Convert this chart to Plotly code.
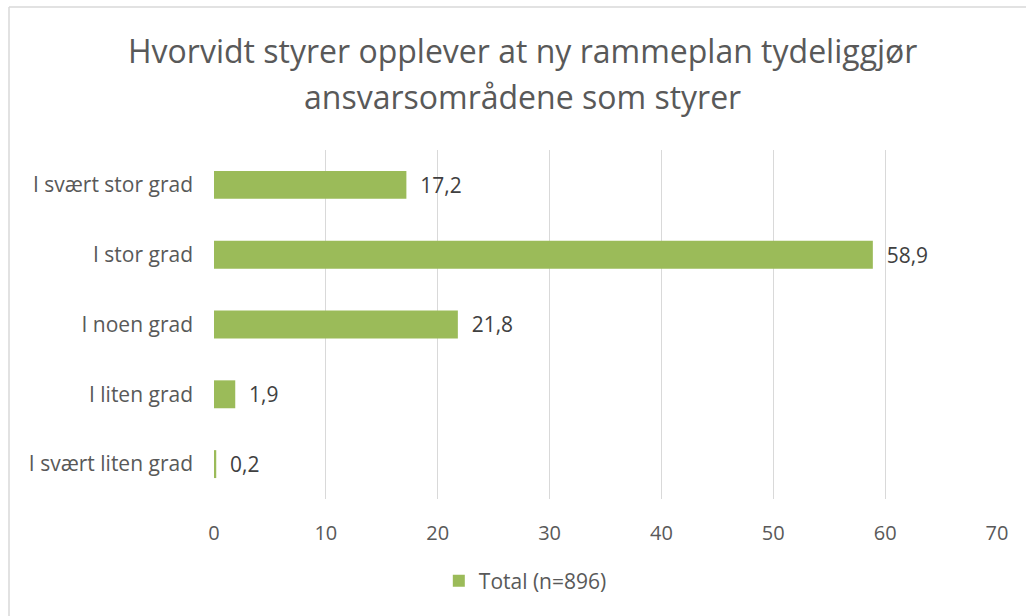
import plotly.graph_objects as go

categories = ["I svært stor grad", "I stor grad", "I noen grad", "I liten grad", "I svært liten grad"]
values = [17.2, 58.9, 21.8, 1.9, 0.2]
series_name = "Total (n=896)"
title_lines = ["Hvorvidt styrer opplever at ny rammeplan tydeliggjør", "ansvarsområdene som styrer"]
x_ticks = [0, 10, 20, 30, 40, 50, 60, 70]

W, H = 1026, 616
L, R, T, B = 214, 29, 150, 117
pw, ph = W - L - R, H - T - B

labels = ["  " + f"{v:.1f}".replace(".", ",") for v in values]
font_fam = "Open Sans, sans-serif"

fig = go.Figure()
fig.add_trace(go.Bar(
    y=categories, x=values, orientation="h", name=series_name,
    marker=dict(color="#9BBB59", line=dict(width=0)),
    text=labels, textposition="outside", cliponaxis=False,
    textfont=dict(family=font_fam, size=21, color="#404040"),
    width=0.4, showlegend=True,
))

fig.update_layout(
    width=W, height=H,
    margin=dict(l=L, r=R, t=T, b=B, pad=0),
    paper_bgcolor="white", plot_bgcolor="white",
    xaxis=dict(range=[0, 70], tickvals=x_ticks, showgrid=True, gridcolor="#D9D9D9", gridwidth=1.3,
               zeroline=False, showline=False, ticks="",
               tickfont=dict(family=font_fam, size=20, color="#595959"), ticklabelstandoff=20),
    yaxis=dict(autorange="reversed", showgrid=False, showline=False, zeroline=False, ticks="",
               tickfont=dict(family=font_fam, size=21, color="#595959"), ticklabelstandoff=20),
    bargap=0.6,
    legend=dict(orientation="h", x=0.512, xanchor="center",
                xref="container", yref="container", y=(H - 581) / H, yanchor="middle",
                font=dict(family=font_fam, size=21, color="#595959"),
                itemwidth=30),
    showlegend=True,
)

for i, (line, yc) in enumerate(zip(title_lines, [50, 96])):
    fig.add_annotation(text=line, xref="paper", yref="paper",
                       x=(522 - L) / pw, y=1 + (T - yc) / ph, xanchor="center", yanchor="middle",
                       showarrow=False, font=dict(family=font_fam, size=32, color="#595959"))

# chart area border (top and left edges visible)
fig.add_shape(type="line", xref="paper", yref="paper",
              x0=(9 - L) / pw, x1=(W + 5 - L) / pw, y0=1 + (T - 7) / ph, y1=1 + (T - 7) / ph,
              line=dict(color="#D9D9D9", width=1.5))
fig.add_shape(type="line", xref="paper", yref="paper",
              x0=(9 - L) / pw, x1=(9 - L) / pw, y0=1 + (T - 7) / ph, y1=-(B + 5) / ph,
              line=dict(color="#D9D9D9", width=1.5))

fig.write_html("out.html", config={"displayModeBar": False},
               post_script="document.body.style.margin='0';document.body.style.overflow='hidden';")
